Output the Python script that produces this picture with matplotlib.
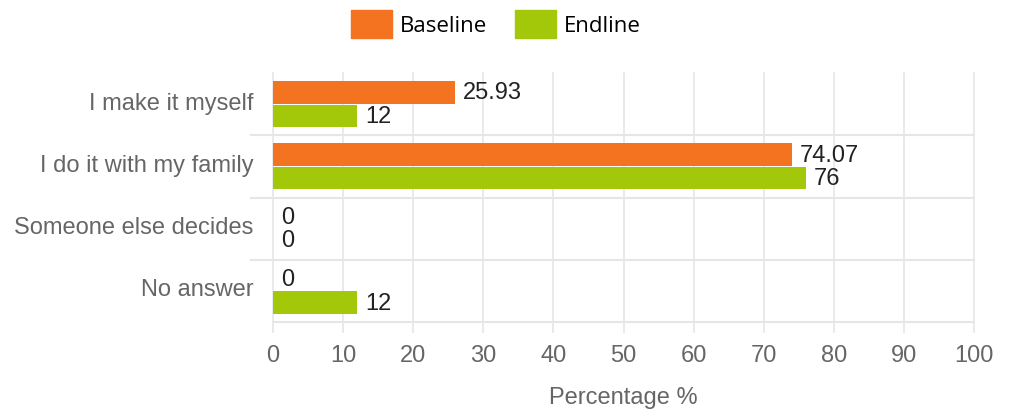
import matplotlib
matplotlib.use("Agg")
import matplotlib.pyplot as plt
import matplotlib.transforms as mtransforms
from matplotlib.patches import Patch
import numpy as np

categories = ["I make it myself", "I do it with my family", "Someone else decides", "No answer"]
baseline = [25.93, 74.07, 0, 0]
endline = [12, 76, 0, 12]
baseline_labels = ["25.93", "74.07", "0", "0"]
endline_labels = ["12", "76", "0", "12"]
xticks = [0, 10, 20, 30, 40, 50, 60, 70, 80, 90, 100]

W, H = 1010, 414
fig = plt.figure(figsize=(W / 100, H / 100), dpi=100)
# plot area in pixels: x 273..974, y 74..323
ax = fig.add_axes([273 / W, (H - 323) / H, (974 - 273) / W, (323 - 74) / H])

orange = "#f47320"
green = "#a3c80a"
grid = "#e6e6e6"
gray = "#666666"
fs = 17

y = np.arange(len(categories))
off = 0.19
bh = 0.36
ax.barh(y - off, baseline, height=bh, color=orange, zorder=3)
ax.barh(y + off, endline, height=bh, color=green, zorder=3)

for i in range(len(categories)):
    ax.text(baseline[i] + 1.1, y[i] - off, baseline_labels[i], va="center", ha="left",
            fontsize=fs, color="#222222", family="Liberation Sans", zorder=4)
    ax.text(endline[i] + 1.1, y[i] + off, endline_labels[i], va="center", ha="left",
            fontsize=fs, color="#222222", family="Liberation Sans", zorder=4)

ax.set_xlim(0, 100)
ax.set_ylim(3.5, -0.5)

# vertical grid, running a little past the bottom as tick marks
for v in xticks:
    ax.plot([v, v], [-0.5, 3.66], color=grid, lw=1.2, zorder=1, clip_on=False)
# category separators
for s in [0.5, 1.5, 2.5]:
    ax.plot([-3.2, 100], [s, s], color=grid, lw=1.5, zorder=1, clip_on=False)
ax.plot([0, 100], [3.5, 3.5], color=grid, lw=1.5, zorder=1, clip_on=False)

for sp in ax.spines.values():
    sp.set_visible(False)
ax.set_xticks(xticks)
ax.set_xticklabels([str(v) for v in xticks], family="Liberation Sans", fontsize=fs, color=gray)
ax.set_yticks(y)
ax.set_yticklabels(categories, family="Liberation Sans", fontsize=fs, color=gray)
ax.tick_params(axis="x", length=0, pad=16)
ax.tick_params(axis="y", length=0, pad=14)

# category labels sit a bit above the band centre
shift = mtransforms.ScaledTranslation(0, 4 / 100, fig.dpi_scale_trans)
for lab in ax.get_yticklabels():
    lab.set_transform(lab.get_transform() + shift)

fig.text(623 / W, 1 - 398 / H, "Percentage %", ha="center", va="center",
         family="Liberation Sans", fontsize=fs, color=gray)

handles = [Patch(color=orange, label="Baseline"), Patch(color=green, label="Endline")]
fig.legend(handles=handles, loc="center", bbox_to_anchor=(496 / W, 1 - 25 / H), ncol=2,
           frameon=False, prop={"family": "Open Sans", "size": 16},
           handlelength=1.85, handleheight=1.5, handletextpad=0.36, columnspacing=1.26)

fig.savefig("out.png", dpi=100)
